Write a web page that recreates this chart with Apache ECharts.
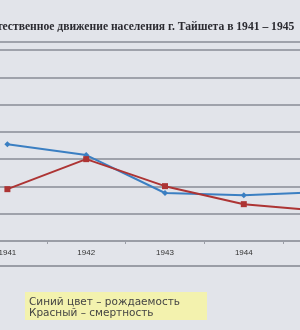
<!DOCTYPE html>
<html>
<head>
<meta charset="utf-8">
<script src="https://cdn.jsdelivr.net/npm/echarts@6/dist/echarts.min.js"></script>
<style>
  html, body { margin: 0; padding: 0; background: #e2e4ea; overflow: hidden; }
  #wrap { position: relative; width: 300px; height: 330px; overflow: hidden; }
  /* the photo is cropped on both sides, so the canvas is wider than the window */
  #chart { position: absolute; left: -32px; top: 0; width: 394px; height: 330px; }
</style>
</head>
<body>
<div id="wrap"><div id="chart"></div></div>
<script>
const years = ['1941', '1942', '1943', '1944', '1945']
const births = [35.5, 31.5, 17.6, 16.8, 18.0]
const deaths = [19.0, 30.0, 20.1, 13.5, 11.0]
const legendLines = ['Синий цвет – рождаемость', 'Красный – смертность']

const shift = 32
const chart = echarts.init(document.getElementById('chart'))
chart.setOption({
  backgroundColor: '#e2e4ea',
  animation: false,
  title: {
    text: 'Естественное движение населения г. Тайшета в 1941 – 1945',
    left: shift - 21,
    top: 16,
    textStyle: {
      fontFamily: 'Liberation Serif',
      fontWeight: 'bold',
      fontSize: 11.6,
      color: '#2a2a30',
    },
  },
  grid: {
    left: 0,
    right: 0,
    top: 50,
    bottom: 89,
  },
  xAxis: {
    type: 'category',
    data: years,
    boundaryGap: true,
    axisLine: { lineStyle: { color: '#9a9da6', width: 2 } },
    axisTick: { show: true, length: 3, lineStyle: { color: '#9a9da6' } },
    axisLabel: { color: '#333', fontSize: 8, fontFamily: 'Liberation Sans', margin: 8 },
  },
  yAxis: {
    type: 'value',
    min: 0,
    max: 70,
    interval: 10,
    axisLabel: { show: false },
    axisLine: { show: false },
    axisTick: { show: false },
    splitLine: { lineStyle: { color: '#9fa2ab', width: 2 } },
  },
  series: [
    {
      type: 'line',
      data: births,
      symbol: 'diamond',
      symbolSize: 6,
      lineStyle: { color: '#3b7fc2', width: 2 },
      itemStyle: { color: '#3b7fc2' },
    },
    {
      type: 'line',
      data: deaths,
      symbol: 'rect',
      symbolSize: 6,
      lineStyle: { color: '#ad3434', width: 2 },
      itemStyle: { color: '#ad3434' },
    },
  ],
  graphic: [
    { type: 'line', shape: { x1: 0, y1: 42, x2: 394, y2: 42 }, style: { stroke: '#9fa2ab', lineWidth: 2 } },
    { type: 'line', shape: { x1: 0, y1: 266, x2: 394, y2: 266 }, style: { stroke: '#9a9da6', lineWidth: 2 } },
    { type: 'rect', shape: { x: shift + 25, y: 292, width: 182, height: 28 }, style: { fill: '#f3f2ae' } },
    {
      type: 'text',
      left: shift + 29,
      top: 297,
      style: {
        text: legendLines.join('\n'),
        font: '10.5px "DejaVu Sans"',
        lineHeight: 10.5,
        fill: '#444',
      },
    },
  ],
})
</script>
</body>
</html>
